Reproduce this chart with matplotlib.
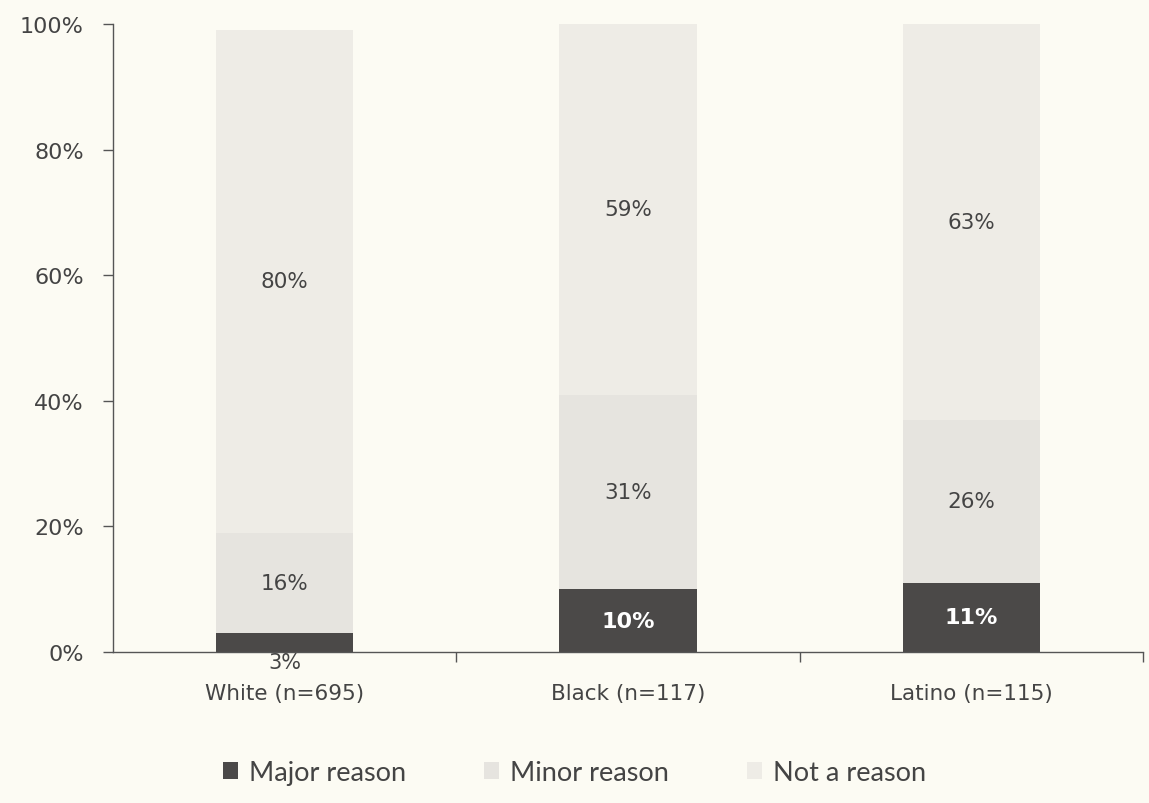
import numpy as np
import matplotlib.pyplot as plt

plt.rcParams['font.family'] = ['DejaVu Sans']

groups = ['White (n=695)', 'Black (n=117)', 'Latino (n=115)']
major = [3, 10, 11]
minor = [16, 31, 26]
not_reason = [80, 59, 63]
series_names = ['Major reason', 'Minor reason', 'Not a reason']

bg = '#fcfbf3'
col_major = '#4b4948'
col_minor = '#e6e4df'
col_not = '#eeece6'
text_col = '#444444'

fig = plt.figure(figsize=(11.49, 8.04), dpi=100, facecolor=bg)
ax = fig.add_axes([0.0983, 0.1878, 0.8965, 0.7811], facecolor=bg)

x = np.arange(len(groups))
w = 0.4
major = np.array(major)
minor = np.array(minor)
not_reason = np.array(not_reason)

b1 = ax.bar(x, major, w, color=col_major, label=series_names[0])
b2 = ax.bar(x, minor, w, bottom=major, color=col_minor, label=series_names[1])
b3 = ax.bar(x, not_reason, w, bottom=major + minor, color=col_not, label=series_names[2])

# value labels centred in each segment
for i in range(len(groups)):
    if major[i] < 5:
        ax.annotate(f'{major[i]}%', (x[i], 0), xytext=(0, -7), textcoords='offset points',
                    ha='center', va='center', fontsize=15, color=text_col)
    else:
        ax.text(x[i], major[i] / 2, f'{major[i]}%', ha='center', va='center',
                fontsize=16, color='white', fontweight='bold')
    ax.text(x[i], major[i] + minor[i] / 2, f'{minor[i]}%', ha='center', va='center',
            fontsize=15.5, color=text_col)
    ax.text(x[i], major[i] + minor[i] + not_reason[i] / 2, f'{not_reason[i]}%',
            ha='center', va='center', fontsize=15.5, color=text_col)

ax.set_xlim(-0.5, 2.5)
ax.set_ylim(0, 100)
ax.set_yticks(range(0, 101, 20))
ax.set_yticklabels([f'{v}%' for v in range(0, 101, 20)], fontsize=16, color=text_col)
ax.set_xticks(x)
ax.set_xticklabels(groups, fontsize=15.5, color=text_col)
ax.tick_params(axis='x', length=0, pad=22)
ax.tick_params(axis='y', direction='out', length=7, width=1, color='#555555', pad=14)
# category separators on the x axis
ax.set_xticks([0.5, 1.5, 2.5], minor=True)
ax.tick_params(axis='x', which='minor', direction='out', length=7, width=1, color='#555555')

for s in ['top', 'right']:
    ax.spines[s].set_visible(False)
for s in ['left', 'bottom']:
    ax.spines[s].set_color('#555555')
    ax.spines[s].set_linewidth(1)

fig.legend(handles=[b1, b2, b3], labels=series_names, loc='center', bbox_to_anchor=(0.5, 0.038),
           ncol=3, frameon=False, prop={'family': 'Lato', 'size': 19.5},
           handlelength=0.55, handleheight=0.55,
           handletextpad=0.4, columnspacing=2.9, labelcolor=text_col)

fig.savefig('out.png', dpi=100, facecolor=bg)
